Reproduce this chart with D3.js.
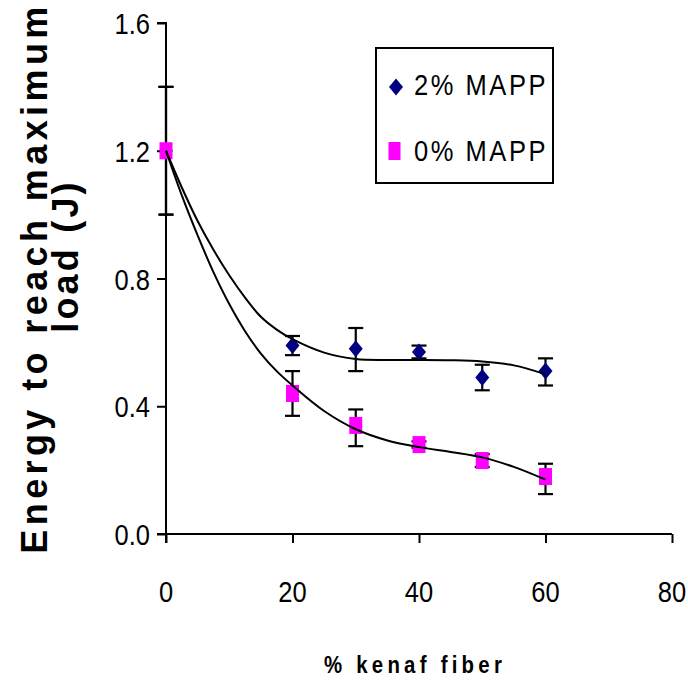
<!DOCTYPE html>
<html><head><meta charset="utf-8">
<script src="https://cdn.jsdelivr.net/npm/d3@7"></script>
<style>body{margin:0;background:#fff}svg{display:block}text{font-family:"Liberation Sans",Arial,sans-serif}</style>
</head><body>
<script>
// ---- data ----
const xVals = [0, 20, 30, 40, 50, 60];
const mapp2 = [1.20, 0.59, 0.58, 0.57, 0.49, 0.51];
const mapp2Lo = [1.00, 0.56, 0.51, 0.55, 0.45, 0.465];
const mapp2Hi = [1.40, 0.62, 0.645, 0.59, 0.53, 0.55];
const mapp0 = [1.20, 0.44, 0.34, 0.28, 0.23, 0.18];
const mapp0Lo = [1.00, 0.37, 0.275, 0.27, 0.21, 0.125];
const mapp0Hi = [1.40, 0.51, 0.39, 0.29, 0.25, 0.22];
const trendX = [0, 2.5, 5, 7.5, 10, 12.5, 15, 17.5, 20, 25, 30, 35, 40, 45, 50, 55, 60];
const trend2 = [1.2, 1.085, 0.98, 0.89, 0.81, 0.74, 0.68, 0.64, 0.61, 0.568, 0.548, 0.545, 0.545, 0.544, 0.54, 0.528, 0.50];
const trend0 = [1.2, 1.06, 0.935, 0.82, 0.72, 0.635, 0.565, 0.51, 0.465, 0.385, 0.328, 0.293, 0.272, 0.257, 0.24, 0.21, 0.17];
const xTicks = [0, 20, 40, 60, 80];
const yTicks = [0, 0.4, 0.8, 1.2, 1.6];
const seriesNames = ["2% MAPP", "0% MAPP"];

const W = 688, H = 682;
const svg = d3.select("body").append("svg").attr("width", W).attr("height", H);
const x = d3.scaleLinear().domain([0, 80]).range([166, 672]);
const y = d3.scaleLinear().domain([0, 1.6]).range([534, 23]);

// axes
const xAxis = svg.append("g").attr("transform", `translate(0,${y(0)})`)
  .call(d3.axisBottom(x).tickValues(xTicks).tickSize(9).tickFormat(""));
const yAxis = svg.append("g").attr("transform", `translate(${x(0)},0)`)
  .call(d3.axisLeft(y).tickValues(yTicks).tickSize(9).tickFormat(""));
[xAxis, yAxis].forEach(g => {
  g.select(".domain").attr("stroke", "#000").attr("stroke-width", 2);
  g.selectAll(".tick line").attr("stroke", "#000").attr("stroke-width", 2);
});
xAxis.select(".domain").attr("d", `M${x(0) - 9},0H${x(80)}`);
yAxis.select(".domain").attr("d", `M0,${y(0) + 9}V${y(1.6)}H-9`);

// tick labels
const lblFont = 30, lblScale = 0.85;
svg.append("g").selectAll("text").data(xTicks).join("text")
  .attr("transform", d => `translate(${x(d)},602) scale(${lblScale},1)`)
  .attr("text-anchor", "middle").attr("font-size", lblFont).attr("fill", "#000")
  .text(d => d);
svg.append("g").selectAll("text").data(yTicks).join("text")
  .attr("transform", d => `translate(${x(0) - 16},${y(d) + 11}) scale(${lblScale},1)`)
  .attr("text-anchor", "end").attr("font-size", lblFont).attr("fill", "#000")
  .text(d => d.toFixed(1));

// axis titles
svg.append("text")
  .attr("transform", `translate(415,673) scale(0.85,1)`)
  .attr("text-anchor", "middle").attr("font-size", 24).attr("font-weight", "bold")
  .attr("letter-spacing", 5).text("% kenaf fiber");
svg.append("text")
  .attr("transform", `translate(47,278) rotate(-90)`)
  .attr("text-anchor", "middle").attr("font-size", 36).attr("font-weight", "bold")
  .attr("letter-spacing", 4.4).text("Energy to reach maximum");
svg.append("text")
  .attr("transform", `translate(78,256) rotate(-90)`)
  .attr("text-anchor", "middle").attr("font-size", 36).attr("font-weight", "bold")
  .attr("letter-spacing", 3.2).text("load (J)");

// error bars
function errBars(lo, hi) {
  const g = svg.append("g").attr("stroke", "#000").attr("stroke-width", 2.2);
  xVals.forEach((xv, i) => {
    g.append("line").attr("x1", x(xv)).attr("x2", x(xv)).attr("y1", y(lo[i])).attr("y2", y(hi[i]));
    [lo[i], hi[i]].forEach(v => g.append("line")
      .attr("x1", x(xv) - 7.5).attr("x2", x(xv) + 7.5).attr("y1", y(v)).attr("y2", y(v)));
  });
}
errBars(mapp2Lo, mapp2Hi);
errBars(mapp0Lo, mapp0Hi);

// markers
const diamond = (cx, cy) => `M${cx},${cy - 8.5}L${cx + 7},${cy}L${cx},${cy + 8.5}L${cx - 7},${cy}Z`;
svg.append("g").selectAll("path").data(xVals).join("path")
  .attr("d", (d, i) => diamond(x(d), y(mapp2[i]))).attr("fill", "#000080");
svg.append("g").selectAll("rect").data(xVals).join("rect")
  .attr("x", d => x(d) - 6.5).attr("y", (d, i) => y(mapp0[i]) - 8.5)
  .attr("width", 13).attr("height", 17).attr("fill", "#ff00ff");

// trend lines
const line = d3.line().x(d => x(d[0])).y(d => y(d[1])).curve(d3.curveCatmullRom.alpha(0.5));
[trend2, trend0].forEach(t => {
  svg.append("path").attr("d", line(trendX.map((xv, i) => [xv, t[i]])))
    .attr("fill", "none").attr("stroke", "#000").attr("stroke-width", 2);
});

// legend
const lg = svg.append("g");
lg.append("rect").attr("x", 376).attr("y", 48).attr("width", 177).attr("height", 135)
  .attr("fill", "#fff").attr("stroke", "#000").attr("stroke-width", 2);
lg.append("path").attr("d", diamond(396, 87)).attr("fill", "#000080");
lg.append("rect").attr("x", 388.5).attr("y", 142).attr("width", 12).attr("height", 18).attr("fill", "#ff00ff");
[[95, seriesNames[0]], [161, seriesNames[1]]].forEach(([yy, t]) => {
  lg.append("text").attr("transform", `translate(414,${yy}) scale(0.85,1)`)
    .attr("font-size", 30).attr("letter-spacing", 3).attr("fill", "#000").text(t);
});
</script>
</body></html>
